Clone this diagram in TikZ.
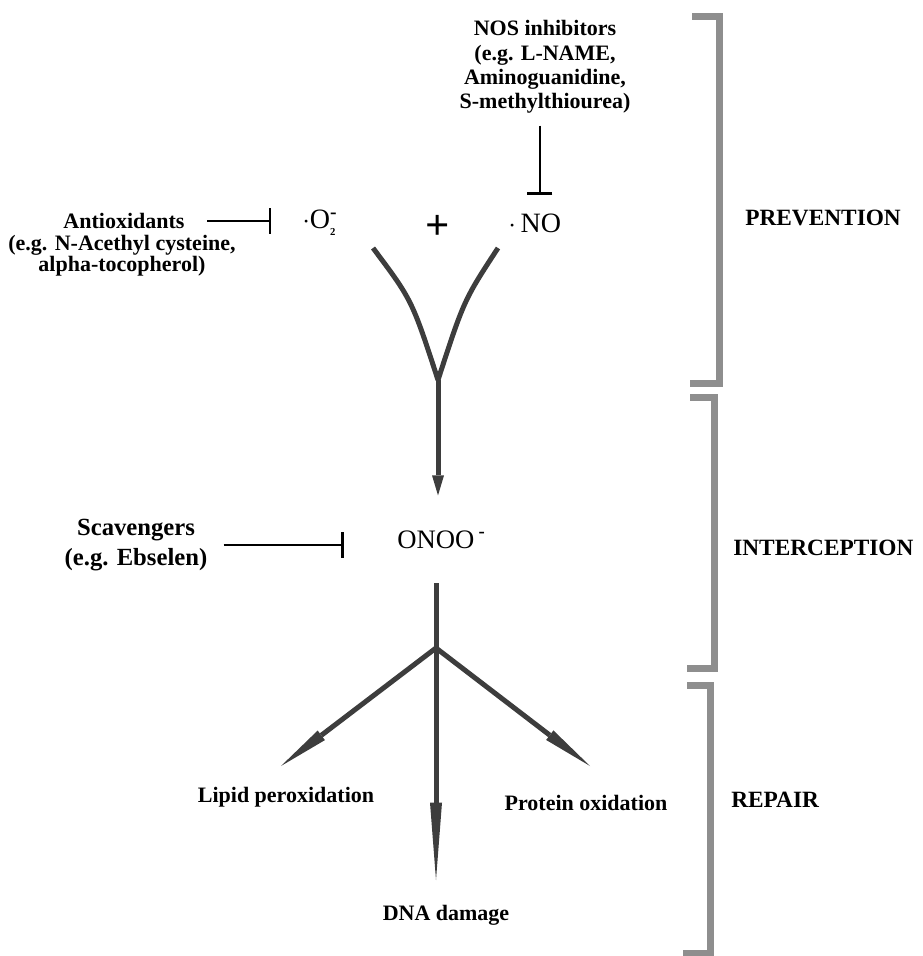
\documentclass[tikz,border=0pt]{standalone}
\usepackage{amsmath}
\usepackage{fontspec}
\setmainfont{Liberation Serif}
\usetikzlibrary{arrows.meta}
\definecolor{flowgray}{HTML}{3D3D3D}
\definecolor{brackgray}{HTML}{8E8E8E}

\begin{document}
\begin{tikzpicture}[x=0.75pt, y=-0.75pt,
    txt/.style={font=\bfseries\fontsize{16.5}{18}\selectfont, align=center, inner sep=0pt},
    bigtxt/.style={font=\bfseries\fontsize{18.5}{17}\selectfont, align=center, inner sep=0pt},
    stagetxt/.style={font=\bfseries\fontsize{17.5}{20}\selectfont, inner sep=0pt, anchor=west},
    chem/.style={font=\fontsize{21}{24}\selectfont, inner sep=0pt, anchor=west},
    flow/.style={flowgray, line width=3.75pt},
    inhib/.style={black, line width=1.5pt, -{Bar[width=19pt, line width=2pt]}},
    brack/.style={brackgray, line width=5.25pt, line join=miter},
    shorthead/.style={-{Triangle[length=15pt, width=9pt, line width=0pt]}},
    sidehead/.style={-{Triangle[length=38pt, width=9pt, line width=0pt]}},
    longhead/.style={-{Triangle[length=58pt, width=9pt, line width=0pt]}}]
    \useasboundingbox (0,0) rectangle (922,956);
    % Specie
    \node[chem] (o2) at (302,223) {$\cdot$O$^{\text{\bfseries -}}_{\text{\fontsize{8}{8}\selectfont\bfseries 2}}$};
    \node[chem] (no) at (508,223) {$\cdot\,$NO};
    \node[font=\bfseries\fontsize{32}{32}\selectfont, inner sep=0pt] (plus) at (438,227) {+};
    \node[chem, anchor=base west, inner xsep=0pt, inner ysep=26pt, font=\fontsize{20}{24}\selectfont] (onoo) at (397,548) {ONOO\,$^{\text{\bfseries -}}$};
    % Inibitori
    \node[txt, font=\bfseries\fontsize{16.5}{18.2}\selectfont] (nos) at (545,67) {NOS inhibitors\\(e.g. L-NAME,\\Aminoguanidine,\\S-methylthiourea)};
    \node[txt] (anti) at (124,221) {Antioxidants};
    \node[txt, font=\bfseries\fontsize{16.5}{15.5}\selectfont] (antieg) at (122,256) {(e.g. N-Acethyl cysteine,\\alpha-tocopherol)};
    \node[bigtxt, font=\bfseries\fontsize{18.5}{22}\selectfont] (scav) at (136,545) {Scavengers\\(e.g. Ebselen)};
    \draw[inhib, shorten <=9pt, shorten >=14pt] ([xshift=-4pt]nos.south) -- ([xshift=-4pt]nos.south |- no.north);
    \draw[inhib, shorten <=17pt, shorten >=23pt] (anti.east) -- (anti.east -| o2.west);
    \draw[inhib, shorten <=12pt, shorten >=40pt] (scav.east) -- (scav.east -| onoo.west);
    % Reazione
    \coordinate (armL) at (373,248);
    \coordinate (armR) at (498,248);
    \coordinate (j) at (438,380);
    \coordinate (split) at (436,648);
    \draw[flow] (armL) .. controls (412,300) .. (j);
    \draw[flow] (armR) .. controls (464,300) .. (j);
    \draw[flow, shorthead] (j) -- (j |- onoo.north);
    \draw[flow] (onoo.south -| split) -- (split);
    % Effetti
    \coordinate (lipidtip) at (281,766);
    \coordinate (dnatip) at (436,880);
    \coordinate (proteintip) at (590,766);
    \draw[flow, sidehead] (split) -- (lipidtip);
    \draw[flow, longhead] (split) -- (dnatip);
    \draw[flow, sidehead] (split) -- (proteintip);
    \node[txt] (lipid) at (286,797) {Lipid peroxidation};
    \node[txt] (dna) at (446,915) {DNA damage};
    \node[txt] (protein) at (586,803) {Protein oxidation};
    % Fasi
    \draw[brack] (692,17) -| (719.5,383) -- (690,383);
    \draw[brack] (690,397) -| (714,668) -- (687,668);
    \draw[brack] (687,685) -| (710,953) -- (683,953);
    \node[stagetxt] (prev) at (745,218) {PREVENTION};
    \node[stagetxt] (inter) at (733,548) {INTERCEPTION};
    \node[stagetxt] (rep) at (731,800) {REPAIR};
\end{tikzpicture}
\end{document}
